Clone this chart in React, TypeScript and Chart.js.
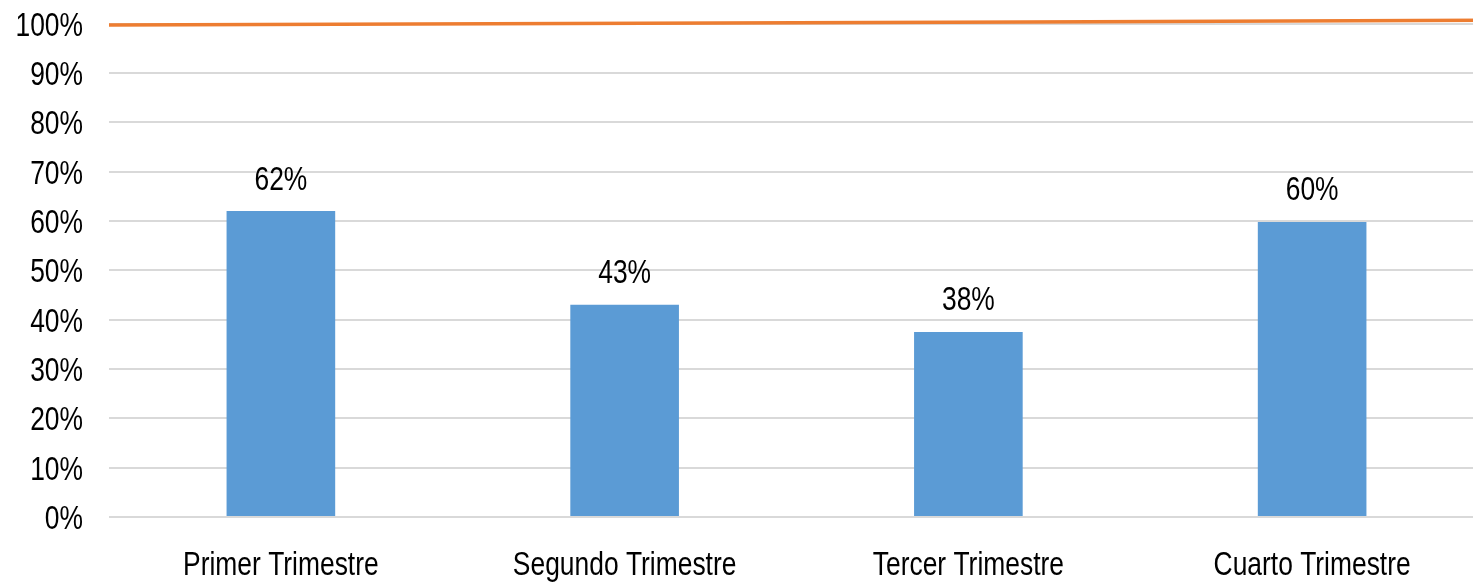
import React, { useEffect, useRef } from "react";
import { Chart, registerables } from "chart.js";

Chart.register(...registerables);

const categories = ["Primer Trimestre", "Segundo Trimestre", "Tercer Trimestre", "Cuarto Trimestre"];
const barValues = [0.62, 0.43, 0.375, 0.598];
const barLabels = ["62%", "43%", "38%", "60%"];
const targetValues = [0.997, 1.0, 1.003, 1.007];

const FONT = "'Liberation Sans', Arial, sans-serif";
const FONT_SIZE = 33;
const X_SCALE = 0.8;
const CANVAS_W = 1484;
const CANVAS_H = 582;

function drawNarrow(ctx: CanvasRenderingContext2D, text: string, x: number, y: number, align: CanvasTextAlign) {
  ctx.save();
  ctx.translate(x, y);
  ctx.scale(X_SCALE, 1);
  ctx.textAlign = align;
  ctx.fillText(text, 0, 0);
  ctx.restore();
}

const textPlugin = {
  id: "narrowText",
  afterDatasetsDraw(chart: any) {
    const ctx = chart.ctx as CanvasRenderingContext2D;
    ctx.save();
    ctx.font = `${FONT_SIZE}px ${FONT}`;
    ctx.fillStyle = "#000000";
    ctx.textBaseline = "alphabetic";
    const meta = chart.getDatasetMeta(0);
    meta.data.forEach((bar: any, i: number) => {
      drawNarrow(ctx, barLabels[i], bar.x, bar.y - 21.5, "center");
    });
    const ys = chart.scales.y;
    ys.ticks.forEach((t: any, i: number) => {
      const py = ys.getPixelForTick(i);
      drawNarrow(ctx, `${Math.round(t.value * 100)}%`, 83, py + 12, "right");
    });
    const xs = chart.scales.x;
    xs.ticks.forEach((t: any, i: number) => {
      const px = xs.getPixelForTick(i);
      drawNarrow(ctx, categories[i], px, xs.top + 57.5, "center");
    });
    ctx.restore();
  },
};

export default function App() {
  const ref = useRef<HTMLCanvasElement>(null);
  useEffect(() => {
    document.body.style.margin = "0";
    const chart = new Chart(ref.current!, {
      type: "bar",
      data: {
        labels: categories,
        datasets: [
          {
            type: "bar",
            data: barValues,
            backgroundColor: "#5B9BD5",
            barPercentage: 0.316,
            categoryPercentage: 1,
            grouped: false,
            xAxisID: "x",
            order: 2,
          },
          {
            type: "line",
            data: targetValues,
            borderColor: "#ED7D31",
            borderWidth: 3.5,
            pointRadius: 0,
            xAxisID: "x2",
            clip: false,
            order: 1,
          } as any,
        ],
      },
      options: {
        animation: false,
        responsive: false,
        maintainAspectRatio: false,
        layout: { padding: { top: 23.6, right: 0, left: 0, bottom: 0 } },
        plugins: { legend: { display: false }, tooltip: { enabled: false } },
        scales: {
          x: {
            type: "category",
            grid: { display: false },
            border: { display: false },
            ticks: { color: "rgba(0,0,0,0)", font: { size: 1 }, padding: 0 },
            afterFit: (s: any) => { s.height = 65; },
          },
          x2: {
            type: "category",
            offset: false,
            display: false,
          },
          y: {
            min: 0,
            max: 1,
            grid: { color: "#D9D9D9", lineWidth: 2, drawTicks: false },
            border: { display: false },
            ticks: {
              stepSize: 0.1,
              color: "rgba(0,0,0,0)",
              font: { size: 1 },
              padding: 0,
            },
            afterFit: (s: any) => { s.width = 109; },
          },
        },
      },
      plugins: [textPlugin],
    } as any);
    return () => chart.destroy();
  }, []);
  return (
    <div style={{ position: "fixed", left: 0, top: 0, width: 1473, height: 582, overflow: "hidden", background: "#fff" }}>
      <canvas ref={ref} width={CANVAS_W} height={CANVAS_H} style={{ width: CANVAS_W, height: CANVAS_H, display: "block" }} />
    </div>
  );
}
